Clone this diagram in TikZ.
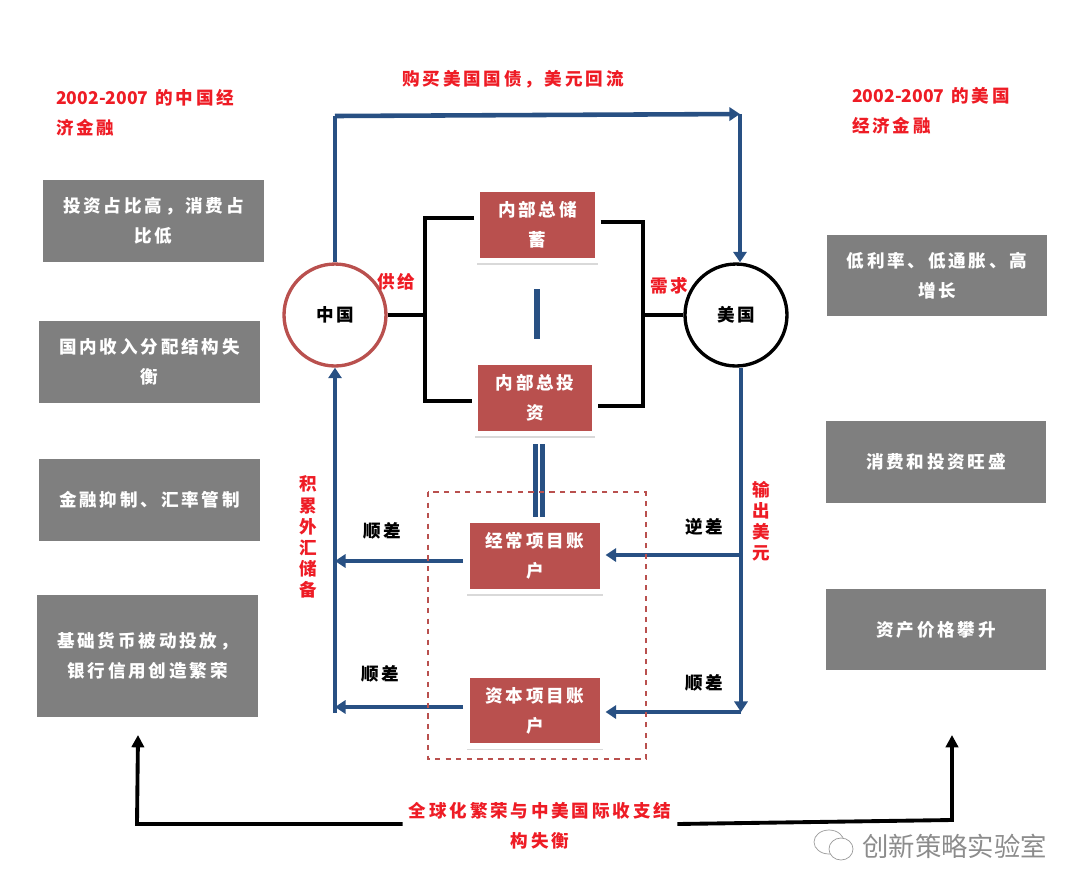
\documentclass[tikz,border=0pt]{standalone}
\usepackage{fontspec}
\setmainfont{Noto Sans CJK SC}[LetterSpace=16]
\newfontfamily\markfont{Noto Sans CJK SC}
\newfontfamily\yearfont{Noto Sans CJK SC}
\usetikzlibrary{arrows.meta,shadows}
\definecolor{cellred}{HTML}{B9504E}
\definecolor{flowblue}{HTML}{285083}
\definecolor{panelgray}{HTML}{7F7F7F}
\definecolor{notered}{HTML}{EE1C25}
\tikzset{
    every node/.style={font=\bfseries\fontsize{10}{17}\selectfont,align=center},
    sumbox/.style={draw=white,line width=3.2pt,fill=cellred,text=white,execute at begin node={\rule{0pt}{12pt}},minimum width=2.71cm,minimum height=1.42cm,drop shadow={shadow xshift=0pt,shadow yshift=-2.5pt,xscale=1.04,opacity=0.3}},
    grayblock/.style={fill=panelgray,text=white,minimum width=4.42cm,minimum height=1.63cm},
    hub/.style={draw,circle,line width=1.9pt,fill=white,minimum size=2.04cm},
    rednote/.style={text=notered},
    blackline/.style={line width=2.2pt},
    blueplain/.style={draw=flowblue,line width=2.6pt},
    blueline/.style={blueplain,-{Triangle[length=6pt,width=7.5pt]}},
    bluebar/.style={draw=flowblue,line width=2.9pt},
}
\begin{document}
\begin{tikzpicture}[x=0.02cm,y=-0.02cm]
        \useasboundingbox (0,0) rectangle (1080,894);

        \node[hub,draw=cellred] (china) at (335,315) {中国};
        \node[hub] (usa) at (736,315) {美国};

        \node[sumbox,minimum width=2.41cm] (save) at (537.5,225) {内部总储\\蓄};
        \node[sumbox,minimum width=2.41cm] (invest) at (535,398) {内部总投\\资};
        \node[sumbox] (current) at (535,556) {经常项目账\\户};
        \node[sumbox] (capital) at (535,710.5) {资本项目账\\户};

        \node[grayblock] (l1) at (153.5,221) {投资占比高，消费占\\比低};
        \node[grayblock] (l2) at (149.5,362) {国内收入分配结构失\\衡};
        \node[grayblock] (l3) at (149.5,500) {金融抑制、汇率管制};
        \node[grayblock,minimum height=2.44cm] (l4) at (147.5,656) {基础货币被动投放，\\银行信用创造繁荣};
        \node[grayblock] (r1) at (937,275.5) {低利率、低通胀、高\\增长};
        \node[grayblock] (r2) at (936,462) {消费和投资旺盛};
        \node[grayblock] (r3) at (936,629.5) {资产价格攀升};

        \coordinate (topleft) at (335,116);
        \coordinate (topright) at (740,114);
        \coordinate (chinafoot) at (335,713);
        \coordinate (usafoot) at (741,712);
        \coordinate (usatap) at (741,555);
        \coordinate (leftup) at (335,561);
        \coordinate (leftlow) at (335,707);
        \coordinate (curout) at (463,561);
        \coordinate (capout) at (463,707);

        \path[blueplain] (china.north) -- (topleft);
        \path[blueline] (topleft) -- (topright);
        \path[blueline] (topright) -- (topright |- usa.north);
        \path[blueline] (chinafoot) -- (china.south);
        \path[blueline] (usa.south -| usafoot) -- (usafoot);
        \path[blueline] (usatap) -- (usatap -| current.east);
        \path[blueline] (usafoot) -- (usafoot -| capital.east);
        \path[blueline] (curout) -- (leftup);
        \path[blueline] (capout) -- (leftlow);

        \coordinate (ljoin) at (425,315);
        \coordinate (rjoin) at (643,315);
        \coordinate (ltop) at (425,218);
        \coordinate (lbot) at (425,401);
        \coordinate (rtop) at (643,222);
        \coordinate (rbot) at (643,406);
        \path[draw,blackline] (china) -- (ljoin);
        \path[draw,blackline] (usa) -- (rjoin);
        \path[draw,blackline] (ltop -| save.west) -- (ltop) -- (lbot) -- (lbot -| invest.west);
        \path[draw,blackline] (rtop -| save.east) -- (rtop) -- (rbot) -- (rbot -| invest.east);

        \coordinate (bartop) at (537,289);
        \coordinate (barlow) at (537,339);
        \coordinate (pipetop) at (539,444);
        \coordinate (pipelow) at (539,517);
        \path[bluebar] (bartop) -- (barlow);
        \path[draw=flowblue,line width=2.6pt,double=white,double distance=1.1pt] (pipetop) -- (pipelow);

        \draw [cellred,dashed,line width=0.7pt] (428,492) rectangle (646,759);

        \node[rednote] (buy) at (513,79) {购买美国国债，美元回流};
        \node[rednote,anchor=west,align=left] (cntitle) at (50,113) {{\yearfont 2002-2007} 的中国经\\济金融};
        \node[rednote,anchor=west,align=left] (ustitle) at (846,111) {{\yearfont 2002-2007} 的美国\\经济金融};
        \node[rednote] (supply) at (396,282) {供给};
        \node[rednote] (demand) at (669,286) {需求};
        \node[rednote,font=\bfseries\fontsize{10}{12}\selectfont] (reserve) at (308,537) {积\\累\\外\\汇\\储\\备};
        \node[rednote,font=\bfseries\fontsize{10}{12}\selectfont] (export) at (761,521) {输\\出\\美\\元};
        \node (sur1) at (382,531) {顺差};
        \node (sur2) at (380,674) {顺差};
        \node (def1) at (704,527) {逆差};
        \node (sur3) at (704,683) {顺差};

        \node[rednote] (glob) at (540,826) {全球化繁荣与中美国际收支结\\构失衡};
        \coordinate (blc) at (137,824);
        \coordinate (blt) at (138,735);
        \coordinate (brc) at (952,820);
        \coordinate (brt) at (952,735);
        \path[draw,blackline,-{Triangle[length=7pt,width=7pt]}] (glob.west |- blc) -- (blc) -- (blt);
        \path[draw,blackline,-{Triangle[length=7pt,width=7pt]}] (glob.east |- blc) -- (brc) -- (brt);

        \node[text=black!45,font=\markfont\fontsize{15}{15}\selectfont,anchor=west,inner sep=0pt] (mark) at (862,846) {创新策略实验室};
        \draw[black!40,line width=0.4pt] (829,842) ellipse (15 and 12);
        \draw[black!40,line width=0.4pt,fill=white] (841,849) ellipse (12 and 11);
\end{tikzpicture}
\end{document}
